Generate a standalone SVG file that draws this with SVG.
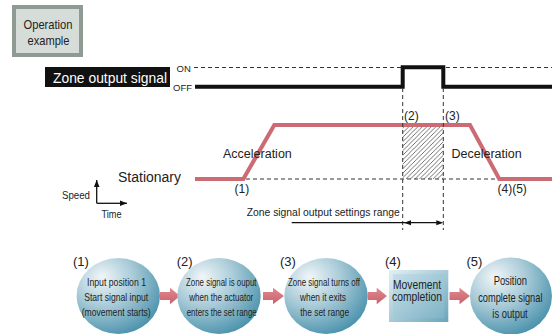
<svg xmlns="http://www.w3.org/2000/svg" width="552" height="334" viewBox="0 0 552 334">
  <style>
    .sans { font-family: "Liberation Sans", Arial, sans-serif; fill: #222; }
    .narrow { font-family: "Liberation Sans", Arial, sans-serif; fill: #222; }
    .dash { stroke: #333; stroke-width: 1; stroke-dasharray: 4 3; fill: none; }
    .speed { stroke: #cd6b74; stroke-width: 4; fill: none; stroke-linejoin: miter; }
    .signal { stroke: #111; stroke-width: 4; fill: none; }
    .bubble { fill: url(#bubbleFill); }
    .flow { fill: url(#arrowFill); }
  </style>
  <defs>
    <radialGradient id="bubbleFill" cx="0.35" cy="0.3" r="0.8" fx="0.3" fy="0.25">
      <stop offset="0" stop-color="#f1f6f8"/>
      <stop offset="0.45" stop-color="#a9cbd8"/>
      <stop offset="1" stop-color="#3f8ba7"/>
    </radialGradient>
    <linearGradient id="boxEdge" x1="0" y1="0" x2="1" y2="1">
      <stop offset="0" stop-color="#e4f0f4"/>
      <stop offset="1" stop-color="#6aa5bb"/>
    </linearGradient>
    <linearGradient id="boxFace" x1="0" y1="0" x2="1" y2="1">
      <stop offset="0" stop-color="#c6dfe8"/>
      <stop offset="1" stop-color="#7fb3c6"/>
    </linearGradient>
    <linearGradient id="arrowFill" x1="0" y1="0" x2="0" y2="1">
      <stop offset="0" stop-color="#e08a91"/>
      <stop offset="1" stop-color="#c9606a"/>
    </linearGradient>
    <pattern id="hatch" width="4.5" height="4.5" patternUnits="userSpaceOnUse">
      <path d="M-1,1 L1,-1 M0,4.5 L4.5,0 M3.5,5.5 L5.5,3.5" stroke="#333" stroke-width="0.7"/>
    </pattern>
    <marker id="headR" viewBox="0 0 10 10" refX="10" refY="5" markerWidth="7" markerHeight="7" markerUnits="userSpaceOnUse" orient="auto">
      <path d="M0,1 L10,5 L0,9 Z" fill="#111"/>
    </marker>
  </defs>

  <!-- title badge -->
  <g id="operation-example">
    <rect x="12" y="5" width="71" height="52" fill="#8e9b92"/>
    <rect x="16" y="9" width="63" height="44" fill="#d6ddd8"/>
    <text class="narrow" x="48" y="29" font-size="13" text-anchor="middle" fill="#333" textLength="49" lengthAdjust="spacingAndGlyphs">Operation</text>
    <text class="narrow" x="48.5" y="45" font-size="13" text-anchor="middle" fill="#333" textLength="42" lengthAdjust="spacingAndGlyphs">example</text>
  </g>

  <!-- zone output signal timing -->
  <g id="zone-signal">
    <rect x="45" y="67" width="125" height="20" fill="#111"/>
    <text class="sans" x="110" y="82.5" font-size="14.5" text-anchor="middle" style="fill:#fff" textLength="114" lengthAdjust="spacingAndGlyphs">Zone output signal</text>
    <text class="sans" x="176.5" y="72" font-size="9.5">ON</text>
    <text class="sans" x="173" y="90.5" font-size="9.5">OFF</text>
    <line class="dash" x1="194" y1="67.5" x2="552" y2="67.5"/>
    <path class="signal" d="M195,86.7 H402.7 V67.3 H443.3 V86.7 H552"/>
  </g>

  <!-- speed profile -->
  <g id="speed-profile">
    <rect x="402.7" y="127" width="40.6" height="52" fill="url(#hatch)"/>
    <line class="dash" x1="246" y1="179" x2="500" y2="179" stroke="#555"/>
    <path class="speed" d="M195,179 H243.3 L274.3,125 H470 L499.3,179 H552"/>
    <text class="sans" x="118" y="181.7" font-size="14">Stationary</text>
    <text class="sans" x="223" y="157.5" font-size="12.5">Acceleration</text>
    <text class="sans" x="451.5" y="157.5" font-size="12.5">Deceleration</text>
    <text class="sans" x="404" y="120" font-size="12">(2)</text>
    <text class="sans" x="445" y="120" font-size="12">(3)</text>
    <text class="sans" x="234.5" y="192.5" font-size="12">(1)</text>
    <text class="sans" x="497.5" y="192.5" font-size="12">(4)(5)</text>
  </g>

  <!-- axes legend -->
  <g id="axes">
    <path d="M96.7,203.3 V180" stroke="#111" stroke-width="1.3" marker-end="url(#headR)"/>
    <path d="M96.7,203.3 H127" stroke="#111" stroke-width="1.3" marker-end="url(#headR)"/>
    <text class="narrow" x="62" y="198.5" font-size="10.5" textLength="28" lengthAdjust="spacingAndGlyphs">Speed</text>
    <text class="narrow" x="101.5" y="218" font-size="10.5" textLength="20" lengthAdjust="spacingAndGlyphs">Time</text>
  </g>

  <!-- connectors: guide lines and range arrow -->
  <g id="connectors">
    <line class="dash" x1="402.7" y1="88" x2="402.7" y2="230"/>
    <line class="dash" x1="443.3" y1="88" x2="443.3" y2="230"/>
    <line x1="291.7" y1="222.7" x2="441" y2="222.7" stroke="#111" stroke-width="1.3"/>
    <path d="M404,222.7 L411,220.2 L411,225.2 Z" fill="#111"/>
    <path d="M443.3,222.7 L436.3,220.2 L436.3,225.2 Z" fill="#111"/>
    <text class="narrow" x="246.7" y="215.5" font-size="11" textLength="153" lengthAdjust="spacingAndGlyphs">Zone signal output settings range</text>
    <path class="flow" d="M160,292 H170 V287.7 L180,296 L170,304.3 V300 H160 Z"/>
    <path class="flow" d="M263,292 H273 V287.7 L284,296 L273,304.3 V300 H263 Z"/>
    <path class="flow" d="M367.7,292 H376.7 V287.7 L387,296 L376.7,304.3 V300 H367.7 Z"/>
    <path class="flow" d="M449.5,292 H459.5 V287.7 L470,296 L459.5,304.3 V300 H449.5 Z"/>
  </g>

  <!-- process steps -->
  <g id="step-1">
    <text class="sans" x="73" y="265.5" font-size="13">(1)</text>
    <ellipse class="bubble" cx="118.3" cy="296" rx="41.7" ry="38"/>
    <text class="narrow" x="116.5" y="286" font-size="11" text-anchor="middle" textLength="59" lengthAdjust="spacingAndGlyphs">Input position 1</text>
    <text class="narrow" x="116.2" y="301" font-size="11" text-anchor="middle" textLength="64" lengthAdjust="spacingAndGlyphs">Start signal input</text>
    <text class="narrow" x="116.2" y="316" font-size="11" text-anchor="middle" textLength="69" lengthAdjust="spacingAndGlyphs">(movement starts)</text>
  </g>
  <g id="step-2">
    <text class="sans" x="176.7" y="265.5" font-size="13">(2)</text>
    <ellipse class="bubble" cx="219" cy="296" rx="41.7" ry="38"/>
    <text class="narrow" x="221.3" y="286" font-size="10.5" text-anchor="middle" textLength="70.5" lengthAdjust="spacingAndGlyphs">Zone signal is ouput</text>
    <text class="narrow" x="221.3" y="301" font-size="10.5" text-anchor="middle" textLength="64" lengthAdjust="spacingAndGlyphs">when the actuator</text>
    <text class="narrow" x="221.7" y="316" font-size="10.5" text-anchor="middle" textLength="70" lengthAdjust="spacingAndGlyphs">enters the set range</text>
  </g>
  <g id="step-3">
    <text class="sans" x="280" y="265.5" font-size="13">(3)</text>
    <ellipse class="bubble" cx="326" cy="296" rx="41.7" ry="38"/>
    <text class="narrow" x="324" y="286" font-size="10.5" text-anchor="middle" textLength="72" lengthAdjust="spacingAndGlyphs">Zone signal turns off</text>
    <text class="narrow" x="323" y="301" font-size="10.5" text-anchor="middle" textLength="46" lengthAdjust="spacingAndGlyphs">when it exits</text>
    <text class="narrow" x="324.7" y="316" font-size="10.5" text-anchor="middle" textLength="49" lengthAdjust="spacingAndGlyphs">the set range</text>
  </g>
  <g id="step-4">
    <text class="sans" x="385" y="265.5" font-size="13">(4)</text>
    <rect x="389" y="270" width="59.3" height="52" fill="url(#boxEdge)"/>
    <rect x="393" y="274" width="51.3" height="44" fill="url(#boxFace)"/>
    <text class="narrow" x="417" y="288.5" font-size="12" text-anchor="middle" textLength="48" lengthAdjust="spacingAndGlyphs">Movement</text>
    <text class="narrow" x="417" y="301" font-size="12" text-anchor="middle" textLength="50" lengthAdjust="spacingAndGlyphs">completion</text>
  </g>
  <g id="step-5">
    <text class="sans" x="466.5" y="265.5" font-size="13">(5)</text>
    <ellipse class="bubble" cx="511" cy="296" rx="41" ry="38.5"/>
    <!-- condensed lines: horizontal scale keeps the tall glyphs narrow -->
    <text class="narrow" transform="translate(510.3,285) scale(0.72,1)" font-size="13" text-anchor="middle">Position</text>
    <text class="narrow" transform="translate(510.3,302) scale(0.713,1)" font-size="13" text-anchor="middle">complete signal</text>
    <text class="narrow" transform="translate(510,318) scale(0.72,1)" font-size="13" text-anchor="middle">is output</text>
  </g>
</svg>
